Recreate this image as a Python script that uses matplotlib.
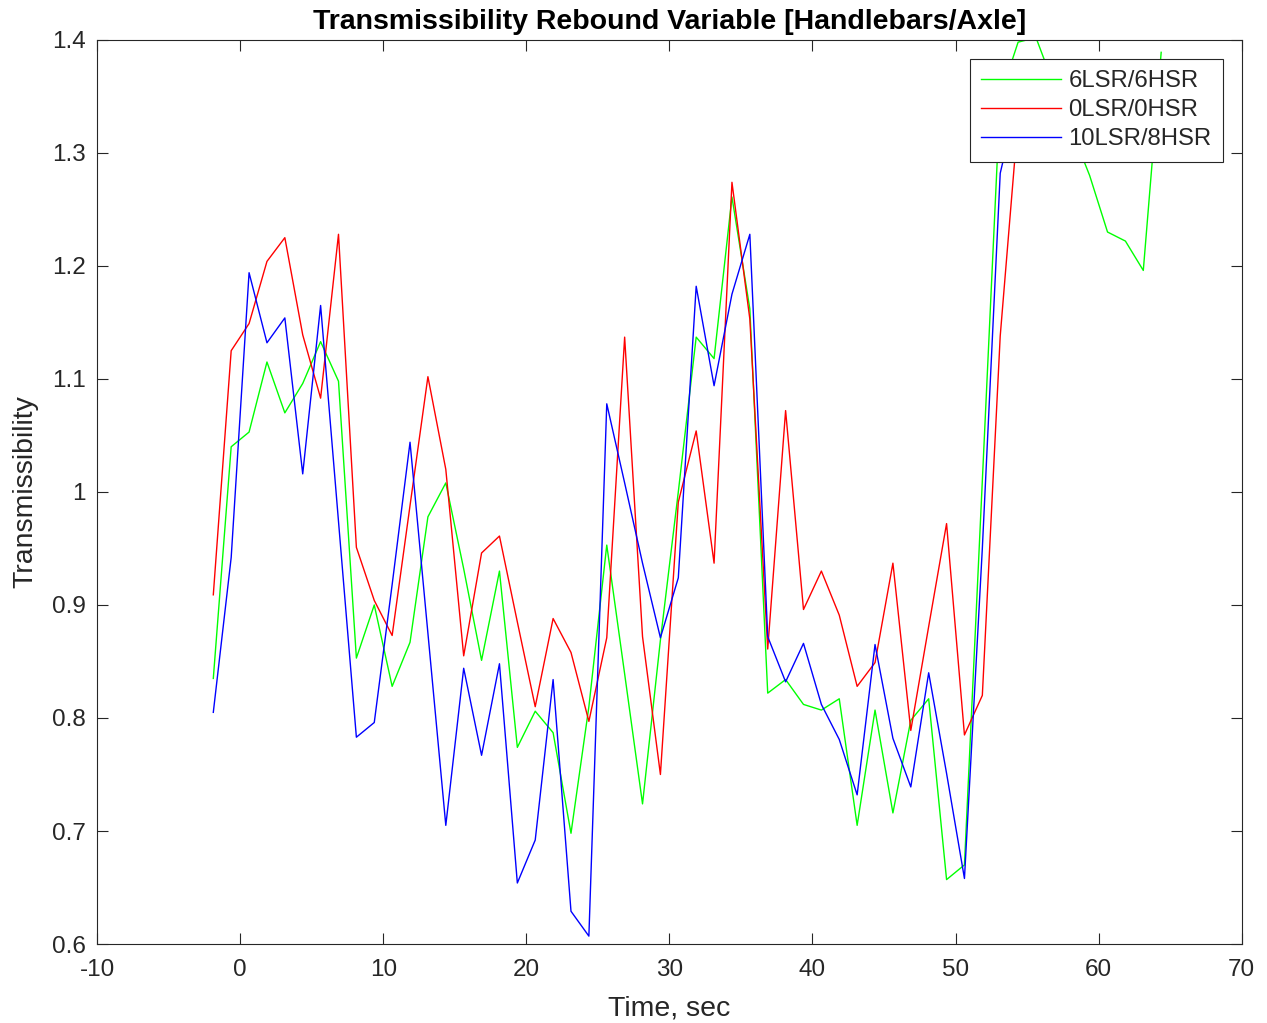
import numpy as np
import matplotlib
matplotlib.use("Agg")
from matplotlib import pyplot as plt

plt.rcParams['font.family'] = ['Liberation Sans', 'DejaVu Sans']
plt.rcParams['axes.unicode_minus'] = False

# sample times (sec)
time = [-1.875, -0.625, 0.625, 1.875, 3.125, 4.375, 5.625, 6.875, 8.125, 9.375,
        10.625, 11.875, 13.125, 14.375, 15.625, 16.875, 18.125, 19.375, 20.625, 21.875,
        23.125, 24.375, 25.625, 26.875, 28.125, 29.375, 30.625, 31.875, 33.125, 34.375,
        35.625, 36.875, 38.125, 39.375, 40.625, 41.875, 43.125, 44.375, 45.625, 46.875,
        48.125, 49.375, 50.625, 51.875, 53.125, 54.375, 55.625, 56.875, 58.125, 59.375,
        60.625, 61.875, 63.125, 64.375]

# 6LSR/6HSR
green = [0.835, 1.040, 1.053, 1.115, 1.070, 1.096, 1.133, 1.098, 0.853, 0.900,
         0.828, 0.867, 0.978, 1.008, 0.932, 0.851, 0.930, 0.774, 0.806, 0.787,
         0.698, 0.810, 0.953, 0.839, 0.724, 0.869, 1.000, 1.137, 1.118, 1.261,
         1.162, 0.822, 0.834, 0.812, 0.807, 0.817, 0.705, 0.807, 0.716, 0.798,
         0.817, 0.657, 0.670, 1.010, 1.350, 1.398, 1.402, 1.360, 1.320, 1.280,
         1.230, 1.222, 1.196, 1.389]

# 0LSR/0HSR (rest of the trace is hidden behind the legend)
red = [0.909, 1.125, 1.149, 1.204, 1.225, 1.139, 1.083, 1.228, 0.951, 0.904,
       0.873, 0.988, 1.102, 1.020, 0.855, 0.946, 0.961, 0.885, 0.810, 0.888,
       0.858, 0.797, 0.871, 1.137, 0.872, 0.750, 0.991, 1.054, 0.937, 1.274,
       1.153, 0.861, 1.072, 0.896, 0.930, 0.891, 0.828, 0.849, 0.937, 0.789,
       0.881, 0.972, 0.785, 0.820, 1.138, 1.330]

# 10LSR/8HSR
blue = [0.805, 0.942, 1.194, 1.132, 1.154, 1.016, 1.165, 0.974, 0.783, 0.796,
        0.918, 1.044, 0.875, 0.705, 0.844, 0.767, 0.848, 0.654, 0.692, 0.834,
        0.629, 0.607, 1.078, 1.008, 0.937, 0.871, 0.924, 1.182, 1.094, 1.175,
        1.228, 0.872, 0.832, 0.866, 0.812, 0.781, 0.732, 0.865, 0.782, 0.739,
        0.840, 0.751, 0.658, 0.950, 1.282, 1.350]

labels = ['6LSR/6HSR', '0LSR/0HSR', '10LSR/8HSR']

fig = plt.figure(figsize=(12.67, 10.23), dpi=100)
ax = fig.add_axes([0.0766, 0.0772, 0.9034, 0.8838])

ax.plot(time[:len(green)], green, color=(0, 1, 0), lw=1.0, label=labels[0])
ax.plot(time[:len(red)], red, color=(1, 0, 0), lw=1.0, label=labels[1])
ax.plot(time[:len(blue)], blue, color=(0, 0, 1), lw=1.0, label=labels[2])

ax.set_xlim(-10, 70)
ax.set_ylim(0.6, 1.4)
ax.set_xticks(np.arange(-10, 71, 10))
ax.set_yticks(np.arange(0.6, 1.41, 0.1))
ax.set_yticklabels(['0.6', '0.7', '0.8', '0.9', '1', '1.1', '1.2', '1.3', '1.4'])

dark = (0.15, 0.15, 0.15)
ax.tick_params(direction='in', top=True, right=True, length=8, width=0.8,
               labelsize=17.5, colors=dark)
ax.tick_params(axis='x', pad=11)
ax.tick_params(axis='y', pad=8)
for sp in ax.spines.values():
    sp.set_color(dark)
    sp.set_linewidth(0.8)

ax.set_xlabel('Time, sec', fontsize=20.5, color=dark, labelpad=10)
ax.set_ylabel('Transmissibility', fontsize=20.5, color=dark, labelpad=10)
ax.set_title('Transmissibility Rebound Variable [Handlebars/Axle]',
             fontsize=20.5, fontweight='bold', pad=8)

leg = ax.legend(loc='upper right', bbox_to_anchor=(0.9834, 0.979), borderaxespad=0,
                fontsize=17.2, fancybox=False, handlelength=3.35, handletextpad=0.3,
                labelspacing=0.3, borderpad=0.47, framealpha=1)
leg.get_frame().set_edgecolor(dark)
leg.get_frame().set_linewidth(0.8)
for t in leg.get_texts():
    t.set_color(dark)

fig.savefig('out.png', dpi=100)
